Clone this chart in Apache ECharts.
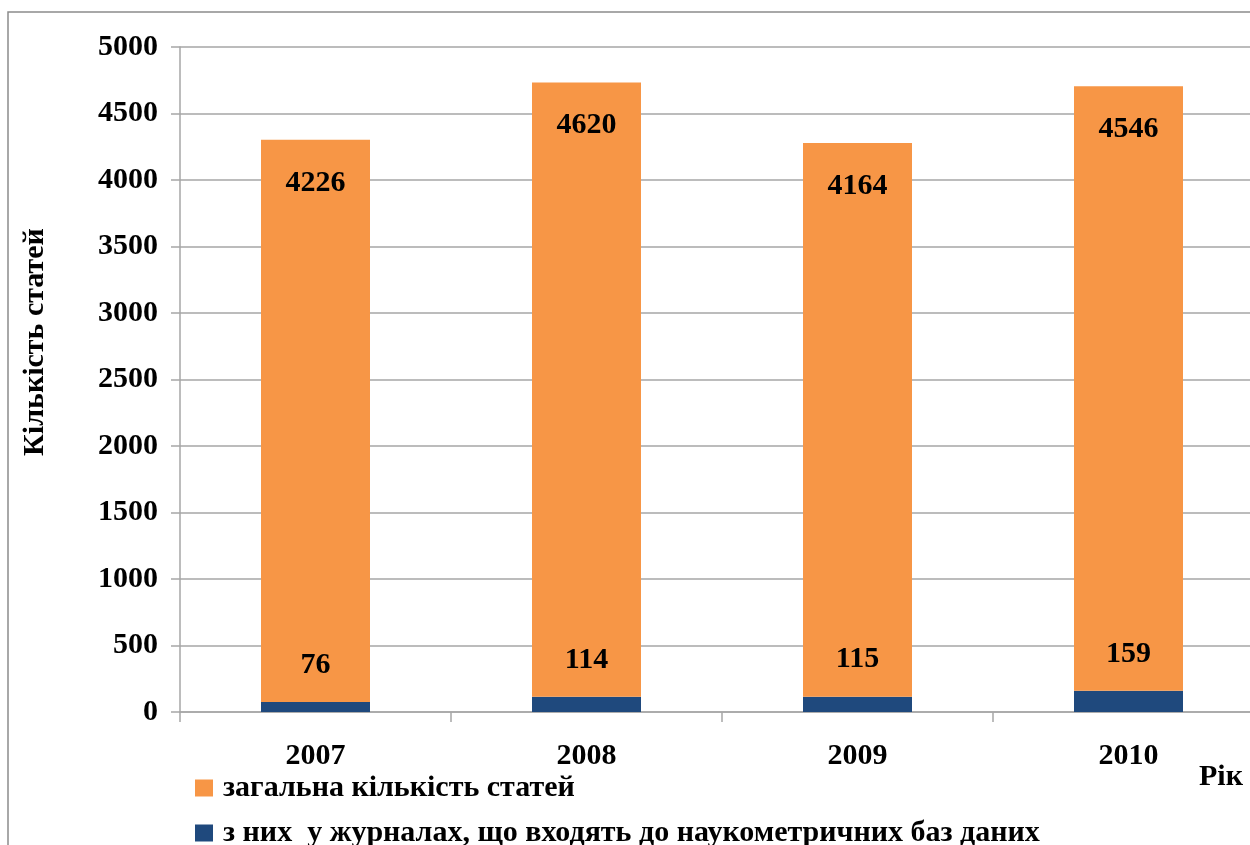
<!DOCTYPE html>
<html>
<head>
<meta charset="utf-8">
<script src="https://cdn.jsdelivr.net/npm/echarts@6/dist/echarts.min.js"></script>
<style>
  html, body { margin: 0; padding: 0; background: #fff; }
  #chart { width: 1250px; height: 845px; }
</style>
</head>
<body>
<div id="chart"></div>
<script>
  // роки
  const years = ['2007', '2008', '2009', '2010'];
  // з них у журналах наукометричних баз
  const indexed = [76, 114, 115, 159];
  // загальна кількість статей
  const total = [4226, 4620, 4164, 4546];
  const yTicks = [0, 500, 1000, 1500, 2000, 2500, 3000, 3500, 4000, 4500, 5000];

  const nameTotal = 'загальна кількість статей';
  const nameIndexed = 'з них  у журналах, що входять до наукометричних баз даних';

  const font = 'Liberation Serif, Times New Roman, serif';
  const fs = 30;

  let chart = echarts.init(document.getElementById('chart'));

  // легенда — по одній на рядок
  function legendRow(name, top) {
    return {
      left: 190,
      top: top,
      itemWidth: 18,
      itemHeight: 17,
      icon: 'rect',
      textStyle: { fontFamily: font, fontWeight: 'bold', fontSize: fs, color: '#000', padding: [0, 0, 0, 5] },
      data: [name]
    };
  }

  let option = {
    backgroundColor: '#fff',
    animation: false,
    textStyle: { fontFamily: font, fontWeight: 'bold', color: '#000' },
    graphic: [
      {
        type: 'rect',
        shape: { x: 8, y: 12, width: 1300, height: 900 },
        style: { fill: 'none', stroke: '#8c8c8c', lineWidth: 1.5 },
        silent: true
      },
      {
        type: 'text',
        x: 35, y: 342,
        rotation: Math.PI / 2,
        style: {
          text: 'Кількість статей',
          font: 'bold ' + fs + 'px ' + font,
          fill: '#000',
          align: 'center',
          verticalAlign: 'middle'
        }
      },
      {
        type: 'text',
        x: 1221, y: 777,
        style: {
          text: 'Рік',
          font: 'bold ' + fs + 'px ' + font,
          fill: '#000',
          align: 'center',
          verticalAlign: 'middle'
        }
      }
    ],
    legend: [legendRow(nameTotal, 768), legendRow(nameIndexed, 813)],
    grid: {
      left: 180,
      top: 47,
      width: 1084,
      height: 665,
      outerBoundsMode: 'none'
    },
    xAxis: {
      type: 'category',
      data: years,
      axisLine: { lineStyle: { color: '#a6a6a6', width: 1.5 } },
      axisTick: { show: true, length: 10, lineStyle: { color: '#a6a6a6', width: 1.5 } },
      axisLabel: { margin: 29, fontSize: fs, fontWeight: 'bold', fontFamily: font, color: '#000' }
    },
    yAxis: {
      type: 'value',
      min: yTicks[0],
      max: yTicks[yTicks.length - 1],
      interval: 500,
      axisLine: { show: true, lineStyle: { color: '#a6a6a6', width: 1.5 } },
      axisTick: { show: true, length: 9, lineStyle: { color: '#a6a6a6', width: 1.5 } },
      axisLabel: {
        margin: 22, fontSize: fs, fontWeight: 'bold', fontFamily: font, color: '#000',
        formatter: v => String(v)
      },
      splitLine: { lineStyle: { color: '#a6a6a6', width: 1.5 } }
    },
    series: [
      {
        name: nameIndexed,
        type: 'bar',
        stack: 'all',
        barWidth: 109,
        data: indexed,
        itemStyle: { color: '#1F497D' },
        label: {
          show: true,
          position: 'top',
          distance: 22,
          fontSize: fs,
          fontWeight: 'bold',
          fontFamily: font,
          color: '#000'
        }
      },
      {
        name: nameTotal,
        type: 'bar',
        stack: 'all',
        barWidth: 109,
        data: total,
        itemStyle: { color: '#F79646' },
        label: {
          show: true,
          position: 'insideTop',
          distance: 28,
          fontSize: fs,
          fontWeight: 'bold',
          fontFamily: font,
          color: '#000'
        }
      }
    ]
  };
  chart.setOption(option);
</script>
</body>
</html>
